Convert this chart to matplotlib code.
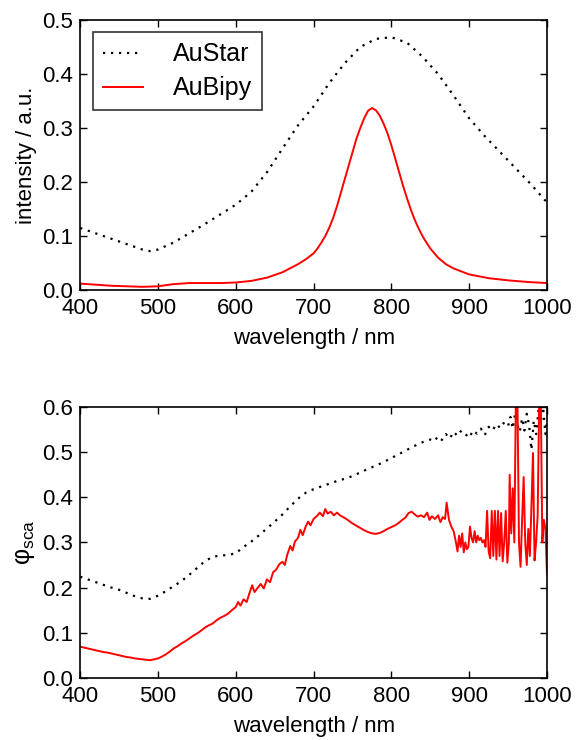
import matplotlib
matplotlib.use('Agg')
import matplotlib.pyplot as plt

plt.rcParams['font.family'] = ['Liberation Sans', 'DejaVu Sans']
plt.rcParams['mathtext.default'] = 'regular'
plt.rcParams['xtick.direction'] = 'in'
plt.rcParams['ytick.direction'] = 'in'
plt.rcParams['xtick.top'] = True
plt.rcParams['ytick.right'] = True

# --- top panel: intensity spectra ---
wl_star_top = [400, 420, 440, 460, 480, 490, 500, 520, 540, 560, 580, 600, 620, 640, 660,
               680, 700, 720, 740, 760, 780, 800, 820, 840, 860, 880, 900, 920, 940, 960,
               980, 1000]
int_star = [0.115, 0.105, 0.095, 0.085, 0.075, 0.072, 0.075, 0.088, 0.105, 0.122, 0.140,
            0.158, 0.182, 0.218, 0.262, 0.305, 0.340, 0.383, 0.420, 0.450, 0.465, 0.468,
            0.458, 0.432, 0.400, 0.360, 0.318, 0.285, 0.255, 0.225, 0.195, 0.162]

wl_bipy_top = [400, 420, 440, 460, 480, 500, 520, 540, 560, 580, 600, 620, 640, 660, 680,
               690, 700, 705, 710, 715, 720, 725, 730, 735, 740, 745, 750, 755, 760, 765,
               770, 775, 780, 785, 790, 795, 800, 805, 810, 815, 820, 825, 830, 835, 840,
               845, 850, 860, 870, 880, 900, 925, 950, 975, 1000]
int_bipy = [0.012, 0.010, 0.008, 0.007, 0.006, 0.007, 0.011, 0.013, 0.013, 0.013, 0.014,
            0.017, 0.023, 0.033, 0.048, 0.057, 0.068, 0.077, 0.088, 0.100, 0.115, 0.133,
            0.155, 0.180, 0.205, 0.230, 0.255, 0.280, 0.300, 0.318, 0.332, 0.337, 0.333,
            0.323, 0.308, 0.290, 0.268, 0.243, 0.218, 0.193, 0.170, 0.149, 0.130, 0.114,
            0.100, 0.088, 0.077, 0.060, 0.048, 0.040, 0.029, 0.022, 0.018, 0.015, 0.013]

# --- bottom panel: scattering yield ---
wl_star_bot = [400, 410, 420, 430, 440, 450, 460, 470, 480, 490, 500, 510, 520, 530, 540,
               550, 560, 570, 580, 590, 600, 610, 620, 630, 640, 650, 660, 670, 680, 690,
               700, 710, 720, 730, 740, 750, 760, 770, 780, 790, 800, 810, 820, 830, 840,
               850, 855, 860, 865, 870, 875, 880, 885, 890, 895, 900, 905, 910, 915, 920,
               925, 930, 935, 940, 945, 950, 953, 956, 959, 962, 965, 968, 971, 974, 977,
               980, 983, 986, 989, 992, 995, 998, 1000]
phi_star = [0.224, 0.218, 0.212, 0.206, 0.200, 0.195, 0.188, 0.181, 0.176, 0.175, 0.182,
            0.192, 0.203, 0.214, 0.228, 0.243, 0.258, 0.268, 0.271, 0.272, 0.276, 0.290,
            0.302, 0.316, 0.331, 0.346, 0.362, 0.380, 0.397, 0.410, 0.418, 0.424, 0.430,
            0.436, 0.441, 0.447, 0.455, 0.463, 0.470, 0.478, 0.487, 0.496, 0.505, 0.514,
            0.522, 0.528, 0.524, 0.535, 0.527, 0.540, 0.530, 0.545, 0.536, 0.548, 0.540,
            0.532, 0.548, 0.541, 0.552, 0.538, 0.556, 0.548, 0.562, 0.553, 0.566, 0.558,
            0.578, 0.552, 0.585, 0.560, 0.545, 0.575, 0.548, 0.585, 0.560, 0.505, 0.570,
            0.540, 0.592, 0.565, 0.600, 0.540, 0.565]

wl_bipy_bot = [400, 405, 410, 415, 420, 425, 430, 435, 440, 445, 450, 455, 460, 465, 470,
               475, 480, 485, 490, 495, 500, 505, 510, 515, 520, 525, 530, 535, 540, 545,
               550, 555, 560, 565, 570, 575, 580, 585, 590, 595, 600, 603, 606, 610, 614,
               618, 621, 624, 628, 632, 636, 640, 644, 648, 652, 656, 660, 663, 666, 670,
               673, 676, 680, 683, 686, 690, 693, 696, 700, 704, 708, 712, 715, 718, 722,
               726, 730, 734, 738, 742, 746, 750, 755, 760, 765, 770, 775, 780, 785, 790,
               795, 800, 805, 810, 814, 818, 822, 826, 830, 834, 838, 842, 846, 849, 852,
               856, 860, 863, 866, 869, 871, 874, 877, 880, 883, 885, 887, 889, 891, 893,
               895, 897, 899, 901, 903, 905, 907, 909, 911, 913, 915, 917, 919, 921, 923,
               925, 927, 929, 931, 933, 935, 937, 939, 941, 943, 945, 947, 949, 951, 952,
               954, 956, 958, 960, 962, 964, 966, 968, 970, 972, 974, 976, 978, 980, 982,
               984, 986, 988, 990, 992, 994, 996, 998, 1000]
phi_bipy = [0.069, 0.067, 0.065, 0.063, 0.061, 0.059, 0.057, 0.056, 0.054, 0.052, 0.050,
            0.048, 0.046, 0.045, 0.043, 0.042, 0.041, 0.040, 0.039, 0.041, 0.043, 0.047,
            0.052, 0.058, 0.065, 0.070, 0.076, 0.081, 0.087, 0.093, 0.098, 0.104, 0.111,
            0.116, 0.120, 0.127, 0.133, 0.137, 0.142, 0.150, 0.157, 0.168, 0.160, 0.174,
            0.168, 0.190, 0.205, 0.190, 0.199, 0.208, 0.198, 0.218, 0.212, 0.234, 0.240,
            0.252, 0.257, 0.250, 0.272, 0.292, 0.282, 0.302, 0.310, 0.328, 0.316, 0.336,
            0.346, 0.338, 0.352, 0.358, 0.366, 0.358, 0.374, 0.364, 0.368, 0.360, 0.366,
            0.360, 0.356, 0.352, 0.347, 0.342, 0.337, 0.332, 0.327, 0.323, 0.320, 0.319,
            0.321, 0.325, 0.330, 0.334, 0.338, 0.344, 0.350, 0.355, 0.365, 0.368, 0.362,
            0.357, 0.360, 0.356, 0.366, 0.350, 0.358, 0.352, 0.360, 0.345, 0.356, 0.352,
            0.388, 0.350, 0.335, 0.325, 0.300, 0.280, 0.315, 0.290, 0.320, 0.278, 0.300,
            0.285, 0.290, 0.335, 0.310, 0.300, 0.325, 0.300, 0.315, 0.305, 0.310, 0.300,
            0.305, 0.290, 0.370, 0.280, 0.265, 0.370, 0.270, 0.370, 0.262, 0.370, 0.270,
            0.365, 0.258, 0.300, 0.370, 0.255, 0.300, 0.450, 0.320, 0.420, 0.300, 0.620,
            0.620, 0.300, 0.246, 0.350, 0.445, 0.300, 0.250, 0.330, 0.270, 0.380, 0.498,
            0.260, 0.300, 0.360, 0.620, 0.620, 0.300, 0.350, 0.330, 0.230]

fig = plt.figure(figsize=(5.77, 7.40), dpi=100)
ax1 = fig.add_axes([0.139, 0.608, 0.809, 0.365])
ax2 = fig.add_axes([0.139, 0.084, 0.809, 0.366])

dots = (0, (1, 2.6))
ax1.plot(wl_star_top, int_star, color='black', linestyle=dots, linewidth=1.6, label='AuStar')
ax1.plot(wl_bipy_top, int_bipy, color='red', linewidth=1.4, label='AuBipy')
ax1.set_xlim(400, 1000)
ax1.set_ylim(0, 0.5)
ax1.set_yticks([0.0, 0.1, 0.2, 0.3, 0.4, 0.5])
ax1.set_yticklabels(['0.0', '0.1', '0.2', '0.3', '0.4', '0.5'])
ax1.set_xlabel('wavelength / nm', fontsize=16, labelpad=6)
ax1.set_ylabel('intensity / a.u.', fontsize=16)
leg = ax1.legend(loc='upper left', fontsize=18, frameon=True, fancybox=False,
                 borderpad=0.4, handlelength=1.6, handletextpad=1.2, labelspacing=0.4,
                 borderaxespad=0.5)
leg.get_frame().set_edgecolor('black')
leg.get_frame().set_linewidth(1.2)

ax2.plot(wl_star_bot, phi_star, color='black', linestyle=dots, linewidth=1.6)
ax2.plot(wl_bipy_bot, phi_bipy, color='red', linewidth=1.4)
ax2.set_xlim(400, 1000)
ax2.set_ylim(0, 0.6)
ax2.set_yticks([0.0, 0.1, 0.2, 0.3, 0.4, 0.5, 0.6])
ax2.set_yticklabels(['0.0', '0.1', '0.2', '0.3', '0.4', '0.5', '0.6'])
ax2.set_xlabel('wavelength / nm', fontsize=16, labelpad=6)
ax2.set_ylabel(r'φ$_{sca}$', fontsize=18)

for ax in (ax1, ax2):
    ax.tick_params(labelsize=16, length=5, width=1)
    ax.tick_params(axis='x', pad=6)
    ax.tick_params(axis='y', pad=5)
    for s in ax.spines.values():
        s.set_linewidth(1.2)

fig.savefig('out.png', dpi=100)
